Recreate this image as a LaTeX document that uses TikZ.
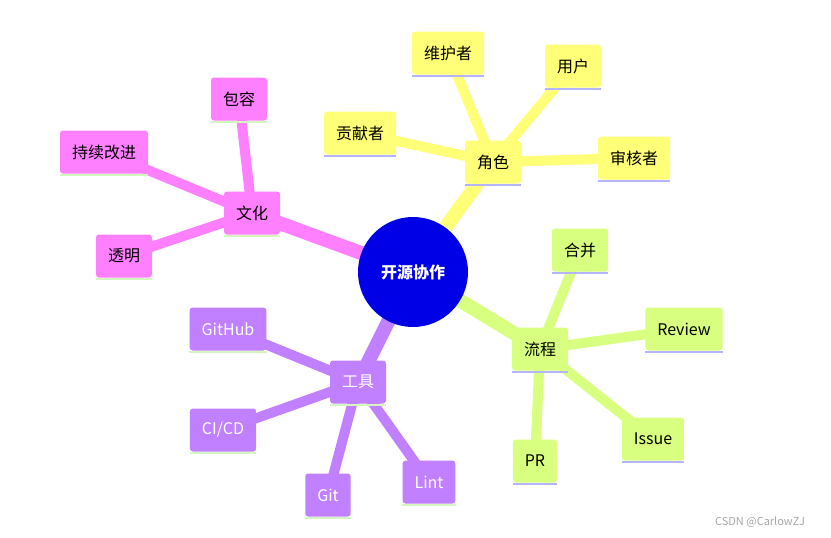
\documentclass[tikz,border=0pt]{standalone}
\usepackage{fontspec}
\setmainfont{Noto Sans CJK SC}
\definecolor{cy}{HTML}{FFFF78}
\definecolor{cp}{HTML}{FF80FF}
\definecolor{cg}{HTML}{D9FF80}
\definecolor{cv}{HTML}{C080FF}
\definecolor{lv}{HTML}{B4B4FF}
\definecolor{lg}{HTML}{D4F5C0}
\definecolor{rootc}{HTML}{0000E6}
\begin{document}
\begin{tikzpicture}[x=1pt,y=-1pt,
  nd/.style={minimum height=43pt,inner xsep=12pt,font=\fontsize{16}{18}\selectfont,rounded corners=3pt},
  edge/.style={line width=10pt},
  edgeb/.style={line width=14pt}]
\useasboundingbox (0,0) rectangle (831,538);
\coordinate (r) at (413,272);
\coordinate (js) at (493,162);
\coordinate (wh) at (448,53);
\coordinate (yh) at (573,66);
\coordinate (gx) at (360,133);
\coordinate (sh) at (634,158);
\coordinate (wha) at (252,213);
\coordinate (br) at (239,99);
\coordinate (cx) at (104,152);
\coordinate (tm) at (124,256);
\coordinate (lc) at (540,349);
\coordinate (hb) at (580,250);
\coordinate (rv) at (684,329);
\coordinate (is) at (653,439);
\coordinate (pr) at (535,461);
\coordinate (gj) at (358,382);
\coordinate (gh) at (228,329);
\coordinate (ci) at (223,430);
\coordinate (git) at (328,495);
\coordinate (li) at (429,482);
\draw[edgeb,cy] (r)--(js);
\draw[edge,cy] (js)--(wh) (js)--(yh) (js)--(gx) (js)--(sh);
\draw[edgeb,cp] (r)--(wha);
\draw[edge,cp] (wha)--(br) (wha)--(cx) (wha)--(tm);
\draw[edgeb,cg] (r)--(lc);
\draw[edge,cg] (lc)--(hb) (lc)--(rv) (lc)--(is) (lc)--(pr);
\draw[edgeb,cv] (r)--(gj);
\draw[edge,cv] (gj)--(gh) (gj)--(ci) (gj)--(git) (gj)--(li);
\node[circle,fill=rootc,minimum size=110pt,text=white,font=\fontsize{16}{18}\selectfont\bfseries] (root) at (r) {开源协作};
\newcommand\mnode[5]{\node[nd,fill=#2,text=#4] (#1n) at (#1) {#5};
  \draw[line width=2.5pt,#3] ([yshift=-1.25pt]#1n.south west)--([yshift=-1.25pt]#1n.south east);}
\mnode{js}{cy}{lv}{black}{角色}
\mnode{wh}{cy}{lv}{black}{维护者}
\mnode{yh}{cy}{lv}{black}{用户}
\mnode{gx}{cy}{lv}{black}{贡献者}
\mnode{sh}{cy}{lv}{black}{审核者}
\mnode{wha}{cp}{lg}{black}{文化}
\mnode{br}{cp}{lg}{black}{包容}
\mnode{cx}{cp}{lg}{black}{持续改进}
\mnode{tm}{cp}{lg}{black}{透明}
\mnode{lc}{cg}{lv}{black}{流程}
\mnode{hb}{cg}{lv}{black}{合并}
\mnode{rv}{cg}{lv}{black}{Review}
\mnode{is}{cg}{lv}{black}{Issue}
\mnode{pr}{cg}{lv}{black}{PR}
\mnode{gj}{cv}{lg}{white}{工具}
\mnode{gh}{cv}{lg}{white}{GitHub}
\mnode{ci}{cv}{lg}{white}{CI/CD}
\mnode{git}{cv}{lg}{white}{Git}
\mnode{li}{cv}{lg}{white}{Lint}
\node[text=gray!70,font=\fontsize{11}{12}\selectfont] (wm) at (760,522) {CSDN @CarlowZJ};
\end{tikzpicture}
\end{document}
